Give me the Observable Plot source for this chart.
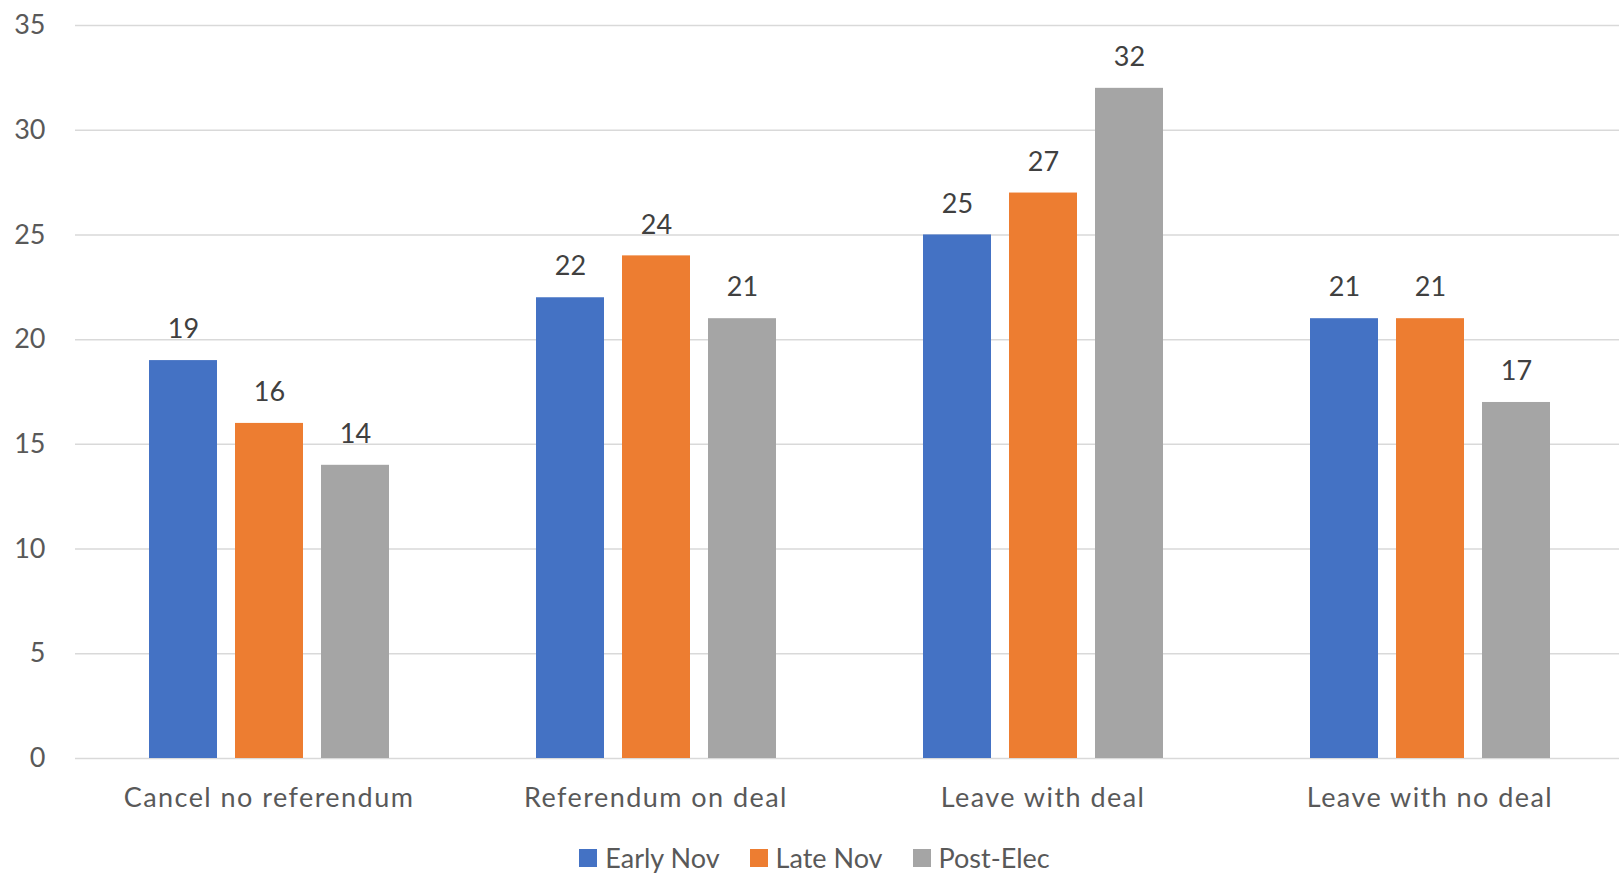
<!DOCTYPE html>
<html>
<head>
<meta charset="utf-8">
<script src="https://cdn.jsdelivr.net/npm/d3@7"></script>
<script src="https://cdn.jsdelivr.net/npm/@observablehq/plot@0.6"></script>
<style>
  html, body { margin: 0; padding: 0; background: #ffffff; overflow: hidden; }
  #chart svg { display: block; }
  #chart svg g[aria-label^="fx-axis"] text { letter-spacing: 1.45px; }
  .legend { display: flex; justify-content: center; align-items: center; height: 32px; line-height: 32px;
    font-family: Lato, sans-serif; font-size: 27px; color: #595959; padding-left: 10px; }
  .legend .item { display: flex; align-items: center; margin: 0 15px; }
  .legend .sw { width: 18px; height: 18px; margin-right: 8px; }
</style>
</head>
<body>
<div id="chart"></div>
<script>
const categories = ["Cancel no referendum", "Referendum on deal", "Leave with deal", "Leave with no deal"];
const seriesNames = ["Early Nov", "Late Nov", "Post-Elec"];
const earlyNov = [19, 22, 25, 21];
const lateNov = [16, 24, 27, 21];
const postElec = [14, 21, 32, 17];
const seriesColors = ["#4472C4", "#ED7D31", "#A5A5A5"];
const yTicks = [0, 5, 10, 15, 20, 25, 30, 35];

const seriesValues = [earlyNov, lateNov, postElec];
const rows = categories.flatMap((c, i) =>
  seriesNames.map((s, j) => ({category: c, series: s, value: seriesValues[j][i]}))
);

const chart = Plot.plot({
  width: 1619,
  height: 842,
  marginLeft: 75,
  marginRight: -4,
  marginTop: 25,
  marginBottom: 84,
  style: {fontFamily: "Lato, sans-serif", fontSize: "27px", color: "#595959", background: "#ffffff"},
  fx: {domain: categories, padding: 0, label: null, tickSize: 0, tickPadding: 29},
  x: {domain: seriesNames, paddingInner: 0.21, paddingOuter: 0.855, axis: null},
  y: {domain: [0, 35], ticks: yTicks, tickSize: 0, tickPadding: 30, label: null, grid: false},
  color: {domain: seriesNames, range: seriesColors},
  marks: [
    Plot.ruleY(yTicks, {stroke: "#D9D9D9", strokeWidth: 1.5}),
    Plot.barY(rows, {fx: "category", x: "series", y: "value", fill: "series"}),
    Plot.text(rows, {fx: "category", x: "series", y: "value", text: d => String(d.value),
      dy: -31, lineAnchor: "middle", fill: "#404040", fontSize: 27})
  ]
});
document.getElementById("chart").appendChild(chart);

const legend = document.createElement("div");
legend.className = "legend";
seriesNames.forEach((s, i) => {
  const item = document.createElement("div");
  item.className = "item";
  const sw = document.createElement("span");
  sw.className = "sw";
  sw.style.background = seriesColors[i];
  const label = document.createElement("span");
  label.textContent = s;
  item.appendChild(sw);
  item.appendChild(label);
  legend.appendChild(item);
});
document.body.appendChild(legend);
</script>
</body>
</html>
